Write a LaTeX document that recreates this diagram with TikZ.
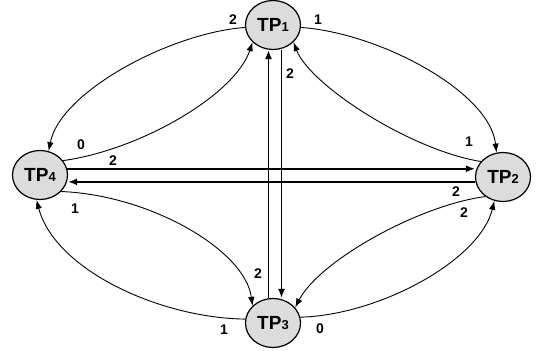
\documentclass[tikz,border=0pt]{standalone}
\usepackage{fontspec}
\setmainfont{Liberation Sans}
\usetikzlibrary{shapes.geometric,arrows.meta}
\definecolor{tpfill}{RGB}{220,220,220}
\newcommand{\tpsub}[1]{{\fontsize{13}{13}\selectfont #1}}
\tikzset{
  tpnode/.style={ellipse, draw, line width=1.2pt, fill=tpfill, minimum width=55pt, minimum height=49pt, inner sep=0pt, font=\fontsize{19}{19}\selectfont\bfseries},
  wlab/.style={inner sep=0pt, font=\fontsize{14}{14}\selectfont\bfseries},
  curvearrow/.style={line width=0.9pt, -{Latex[length=9pt,width=6.5pt]}},
  straightarrow/.style={line width=1.6pt, -{Latex[length=9pt,width=7pt]}}
}
\begin{document}
\begin{tikzpicture}[x=1pt,y=-1pt]
\useasboundingbox (0,0) rectangle (536,351);
\node[tpnode] (tp1) at (273,25) {TP\tpsub{1}};
\node[tpnode] (tp2) at (503,177) {TP\tpsub{2}};
\node[tpnode] (tp3) at (273,323) {TP\tpsub{3}};
\node[tpnode] (tp4) at (40,175) {TP\tpsub{4}};

% straight lines
\draw[straightarrow] (tp4.13) -- (tp4.13 -| tp2.west);
\draw[straightarrow] (tp2.190) -- (tp2.190 -| tp4.east);
\draw[straightarrow] ([xshift=-4.5pt]tp3.north) -- ([xshift=-4.5pt]tp1.south);
\draw[straightarrow] ([xshift=8.5pt]tp1.south) -- ([xshift=8.5pt]tp3.north);

% curves
\draw[curvearrow] (tp1.185) .. controls (170,33) and (60,92) .. (tp4.70);
\draw[curvearrow] (tp4.32) .. controls (140,150) and (235,95) .. (tp1.220);
\draw[curvearrow] (tp1.355) .. controls (380,33) and (490,92) .. (tp2.105);
\draw[curvearrow] (tp2.145) .. controls (410,150) and (310,85) .. (tp1.320);
\draw[curvearrow] (tp2.228) .. controls (420,205) and (320,260) .. (tp3.35);
\draw[curvearrow] (tp3.12) .. controls (380,315) and (480,260) .. (tp2.250);
\draw[curvearrow] (tp4.322) .. controls (150,195) and (245,250) .. (tp3.140);
\draw[curvearrow] (tp3.172) .. controls (160,318) and (55,270) .. (tp4.262);

% labels
\node[wlab] (l1a) at (233,20) {2};
\node[wlab] (l1b) at (318,20) {1};
\node[wlab] (l1c) at (290,74) {2};
\node[wlab] (l2a) at (469,142) {1};
\node[wlab] (l2b) at (456,192) {2};
\node[wlab] (l2c) at (464,213) {2};
\node[wlab] (l3a) at (258,274) {2};
\node[wlab] (l3b) at (224,330) {1};
\node[wlab] (l3c) at (320,329) {0};
\node[wlab] (l4a) at (81,145) {0};
\node[wlab] (l4b) at (113,161) {2};
\node[wlab] (l4c) at (75,209) {1};
\end{tikzpicture}
\end{document}
